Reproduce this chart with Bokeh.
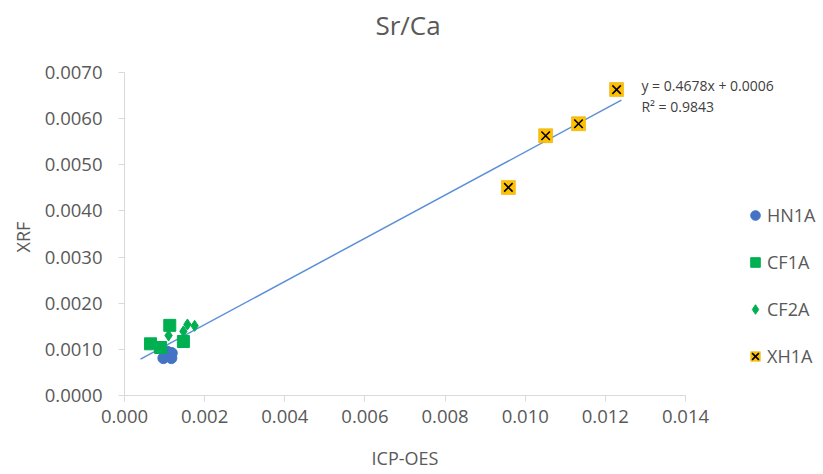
import math
from bokeh.plotting import figure
from bokeh.models import (Range1d, SingleIntervalTicker, NumeralTickFormatter,
                          Legend, LegendItem, Label)
from bokeh.embed import file_html
from bokeh.resources import INLINE

# Sr/Ca ratios: ICP-OES (x) against XRF (y) for each core
hn1a_x = [0.00097, 0.00117, 0.00107, 0.00118]
hn1a_y = [0.00081, 0.00081, 0.00095, 0.00092]

cf1a_x = [0.00065, 0.00090, 0.00113, 0.00147]
cf1a_y = [0.00112, 0.00104, 0.00152, 0.00117]

cf2a_x = [0.00110, 0.00147, 0.00157, 0.00175]
cf2a_y = [0.00130, 0.00139, 0.00154, 0.00151]

xh1a_x = [0.00958, 0.01051, 0.01133, 0.01228]
xh1a_y = [0.00451, 0.00563, 0.00589, 0.00663]

# linear fit over all samples
slope = 0.4678
intercept = 0.0006
r_squared = 0.9843
fit_x = [0.0004, 0.0124]

X_MAX = 0.014
Y_MAX = 0.007

W, H = 823, 474
# plot area: left/right/top/bottom edges of the axes in canvas pixels
AX_L, AX_R, AX_T, AX_B = 124, 685, 72, 395
XPX = X_MAX / (AX_R - AX_L)     # data units per pixel
YPX = Y_MAX / (AX_B - AX_T)

FONT = "Open Sans"
GREY = "#595959"
AXIS_GREY = "#D9D9D9"

# the frame fills the whole canvas; the axes are pinned at zero and bounded
p = figure(width=W, height=H, output_backend="svg", toolbar_location=None,
           x_range=Range1d(-AX_L * XPX, (W - AX_L) * XPX),
           y_range=Range1d(-(H - AX_B) * YPX, AX_B * YPX),
           min_border=0)
p.outline_line_color = None
p.xgrid.visible = False
p.ygrid.visible = False

for ax in (p.xaxis[0], p.yaxis[0]):
    ax.fixed_location = 0
    ax.axis_line_color = AXIS_GREY
    ax.major_tick_line_color = AXIS_GREY
    ax.major_tick_out = 6
    ax.major_tick_in = 0
    ax.minor_tick_line_color = None
    ax.major_label_text_font = FONT
    ax.major_label_text_font_size = "18.5px"
    ax.major_label_text_color = GREY

p.xaxis[0].ticker = SingleIntervalTicker(interval=0.002)
p.xaxis[0].formatter = NumeralTickFormatter(format="0.000")
p.xaxis[0].bounds = (0, X_MAX)
p.xaxis[0].major_label_standoff = 8

p.yaxis[0].ticker = SingleIntervalTicker(interval=0.001)
p.yaxis[0].formatter = NumeralTickFormatter(format="0.0000")
p.yaxis[0].bounds = (0, Y_MAX)
p.yaxis[0].major_label_standoff = 16

# titles
p.add_layout(Label(x=X_MAX / 2 + 3 * XPX, y=Y_MAX + 48 * YPX, text="Sr/Ca",
                   text_font=FONT, text_font_size="26px", text_color=GREY,
                   text_baseline="middle", text_align="center"))
p.add_layout(Label(x=X_MAX / 2, y=-62 * YPX, text="ICP-OES",
                   text_font=FONT, text_font_size="18px", text_color=GREY,
                   text_baseline="middle", text_align="center"))
p.add_layout(Label(x=-102 * XPX, y=Y_MAX / 2 - 3 * YPX, text="XRF", angle=math.pi / 2,
                   text_font=FONT, text_font_size="18px", text_color=GREY,
                   text_baseline="middle", text_align="center"))

# trend line
p.line(fit_x, [slope * x + intercept for x in fit_x], line_color="#5B8FD6", line_width=1.5)

r_hn = p.scatter(hn1a_x, hn1a_y, marker="circle", size=11,
                 fill_color="#4472C4", line_color="#4472C4")
r_cf1 = p.scatter(cf1a_x, cf1a_y, marker="square", size=12,
                  fill_color="#00B050", line_color="#00B050")
r_cf2 = p.scatter(cf2a_x, cf2a_y, marker="diamond", size=11,
                  fill_color="#00B050", line_color="#00B050")
r_xh_sq = p.scatter(xh1a_x, xh1a_y, marker="square", size=14,
                    fill_color="#FFC000", line_color="#E0A800", line_width=0.5)
r_xh_x = p.scatter(xh1a_x, xh1a_y, marker="x", size=12,
                   line_color="black", line_width=1.6)

p.add_layout(Label(x=0.0129, y=0.00672, text="y = %.4fx + %.4f" % (slope, intercept),
                   text_font=FONT, text_font_size="14px", text_color="#404040",
                   text_baseline="middle", text_align="left"))
p.add_layout(Label(x=0.0129, y=0.00626, text="R\u00b2 = %.4f" % r_squared,
                   text_font=FONT, text_font_size="14px", text_color="#404040",
                   text_baseline="middle", text_align="left"))

legend = Legend(items=[
    LegendItem(label="HN1A", renderers=[r_hn]),
    LegendItem(label="CF1A", renderers=[r_cf1]),
    LegendItem(label="CF2A", renderers=[r_cf2]),
    LegendItem(label="XH1A", renderers=[r_xh_sq, r_xh_x]),
], location=(AX_L + 619, H - AX_B + 27), orientation="vertical")
legend.border_line_color = None
legend.background_fill_alpha = 0
legend.padding = 0
legend.margin = 0
legend.spacing = 23
legend.glyph_height = 24
legend.glyph_width = 24
legend.label_height = 24
legend.label_standoff = 0
legend.label_text_font = FONT
legend.label_text_font_size = "18px"
legend.label_text_color = GREY
p.add_layout(legend)

open("out.html", "w").write(file_html(p, INLINE))
